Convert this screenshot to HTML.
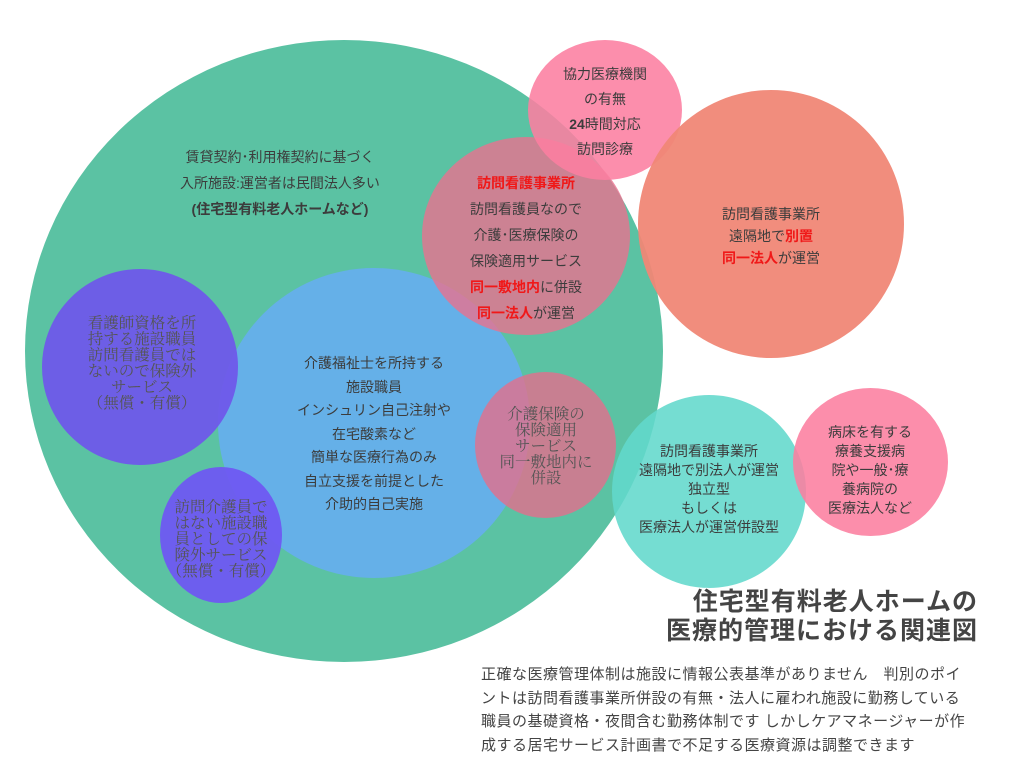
<!DOCTYPE html>
<html><head><meta charset="utf-8"><style>
html,body{margin:0;padding:0;background:#fff}
body{width:1024px;height:779px;position:relative;overflow:hidden;font-family:"Liberation Sans","Noto Sans CJK JP",sans-serif;color:#444}
.c{position:absolute;border-radius:50%}
.t{position:absolute;text-align:center;white-space:nowrap;font-size:14px;line-height:22px;color:#3c3c3c}
.s{font-family:"Liberation Serif","Noto Serif CJK SC",serif;color:#555;line-height:16px;font-size:15.5px}
.r{color:#f01818;font-weight:bold}
</style></head><body>
<div class="c" style="left:25px;top:40px;width:638px;height:622px;background:#5bc2a3"></div>
<div class="c" style="left:218px;top:268px;width:312px;height:310px;background:#65b0ea;opacity:.97"></div>
<div class="c" style="left:42px;top:269px;width:196px;height:196px;background:#6f58ea;opacity:.95"></div>
<div class="c" style="left:160px;top:467px;width:122px;height:136px;background:#6f58f2;opacity:.95"></div>
<div class="c" style="left:422px;top:137px;width:208px;height:198px;background:#e8728e;opacity:.8"></div>
<div class="c" style="left:528px;top:40px;width:154px;height:140px;background:#fc7ea0;opacity:.88"></div>
<div class="c" style="left:638px;top:90px;width:266px;height:268px;background:#f08776;opacity:.95"></div>
<div class="c" style="left:475px;top:372px;width:141px;height:146px;background:#e0708e;opacity:.82"></div>
<div class="c" style="left:612px;top:395px;width:194px;height:193px;background:#62d8cc;opacity:.88"></div>
<div class="c" style="left:793px;top:388px;width:155px;height:148px;background:#fc7e9f;opacity:.88"></div>

<div class="t" style="left:160px;top:144px;width:240px;line-height:26px">賃貸契約･利用権契約に基づく<br>入所施設:運営者は民間法人多い<br><b>(住宅型有料老人ホームなど)</b></div>
<div class="t" style="left:440px;top:170px;width:172px;line-height:26px"><span class="r">訪問看護事業所</span><br>訪問看護員なので<br>介護･医療保険の<br>保険適用サービス<br><span class="r">同一敷地内</span>に併設<br><span class="r">同一法人</span>が運営</div>
<div class="t" style="left:545px;top:62px;width:120px;line-height:25px">協力医療機関<br>の有無<br><b>24</b>時間対応<br>訪問診療</div>
<div class="t" style="left:700px;top:203px;width:142px;line-height:22px">訪問看護事業所<br>遠隔地で<span class="r">別置</span><br><span class="r">同一法人</span>が運営</div>
<div class="t" style="left:294px;top:352px;width:160px;line-height:23.5px">介護福祉士を所持する<br>施設職員<br>インシュリン自己注射や<br>在宅酸素など<br>簡単な医療行為のみ<br>自立支援を前提とした<br>介助的自己実施</div>
<div class="t s" style="left:60px;top:316px;width:164px">看護師資格を所<br>持する施設職員<br>訪問看護員では<br>ないので保険外<br>サービス<br>（無償・有償）</div>
<div class="t s" style="left:163px;top:500px;width:116px">訪問介護員で<br>はない施設職<br>員としての保<br>険外サービス<br>（無償・有償）</div>
<div class="t s" style="left:488px;top:407px;width:116px">介護保険の<br>保険適用<br>サービス<br>同一敷地内に<br>併設</div>
<div class="t" style="left:612px;top:442px;width:194px;line-height:19px">訪問看護事業所<br>遠隔地で別法人が運営<br>独立型<br>もしくは<br>医療法人が運営併設型</div>
<div class="t" style="left:800px;top:423px;width:140px;line-height:19px">病床を有する<br>療養支援病<br>院や一般･療<br>養病院の<br>医療法人など</div>

<div style="position:absolute;left:560px;top:588px;width:418px;text-align:right;font-size:25px;letter-spacing:1px;line-height:29px;font-weight:bold;color:#444;text-shadow:0 0 2px #fff,0 0 2px #fff">住宅型有料老人ホームの<br>医療的管理における関連図</div>
<div style="position:absolute;left:481px;top:663px;width:520px;font-size:15px;letter-spacing:0.5px;line-height:23.5px;color:#444;white-space:nowrap">正確な医療管理体制は施設に情報公表基準がありません　判別のポイ<br>ントは訪問看護事業所併設の有無・法人に雇われ施設に勤務している<br>職員の基礎資格・夜間含む勤務体制です しかしケアマネージャーが作<br>成する居宅サービス計画書で不足する医療資源は調整できます</div>
</body></html>
